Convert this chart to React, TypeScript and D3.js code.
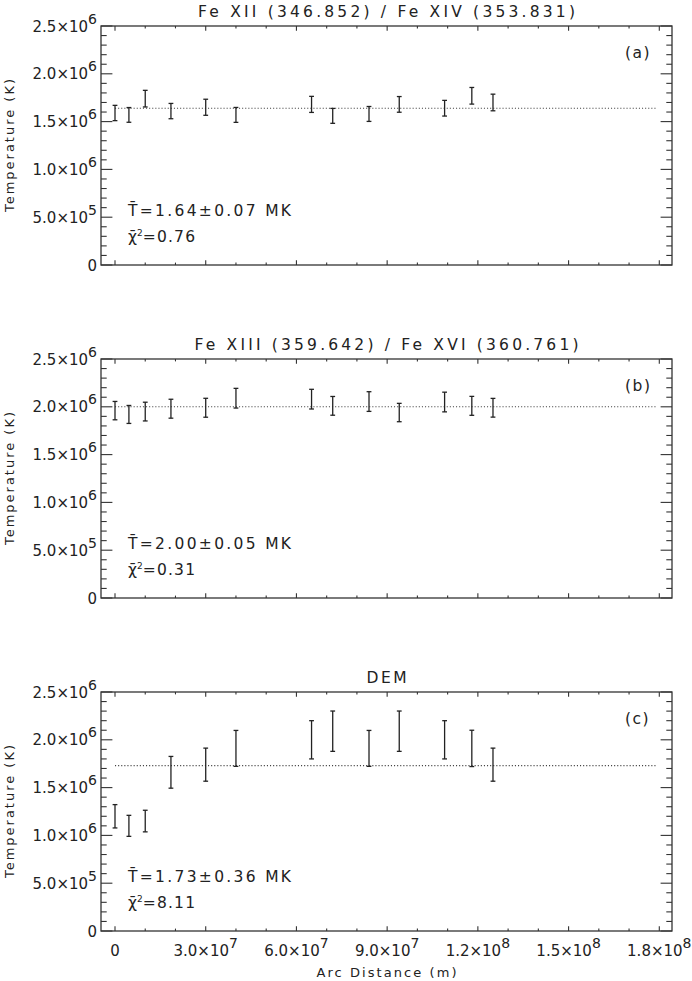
import React from "react";
import * as d3 from "d3";

const arcDistance = [0, 4.6e6, 1.0e7, 1.85e7, 3.0e7, 4.0e7, 6.5e7, 7.2e7, 8.4e7, 9.4e7, 1.09e8, 1.18e8, 1.25e8];

const tempA = [1.59e6, 1.57e6, 1.74e6, 1.61e6, 1.65e6, 1.57e6, 1.68e6, 1.56e6, 1.58e6, 1.68e6, 1.64e6, 1.77e6, 1.70e6];
const errA = [0.08e6, 0.077e6, 0.087e6, 0.08e6, 0.084e6, 0.078e6, 0.084e6, 0.078e6, 0.078e6, 0.082e6, 0.082e6, 0.087e6, 0.087e6];

const tempB = [1.96e6, 1.92e6, 1.95e6, 1.98e6, 1.99e6, 2.09e6, 2.08e6, 2.01e6, 2.055e6, 1.94e6, 2.05e6, 2.01e6, 1.99e6];
const errB = [0.096e6, 0.094e6, 0.098e6, 0.099e6, 0.099e6, 0.103e6, 0.103e6, 0.098e6, 0.103e6, 0.096e6, 0.103e6, 0.099e6, 0.098e6];

const tempC = [1.20e6, 1.10e6, 1.15e6, 1.66e6, 1.74e6, 1.91e6, 2.00e6, 2.09e6, 1.91e6, 2.09e6, 2.00e6, 1.91e6, 1.74e6];
const errC = [0.122e6, 0.110e6, 0.113e6, 0.166e6, 0.173e6, 0.188e6, 0.200e6, 0.211e6, 0.188e6, 0.211e6, 0.200e6, 0.190e6, 0.173e6];

const panelTitles = ["Fe XII (346.852) / Fe XIV (353.831)", "Fe XIII (359.642) / Fe XVI (360.761)", "DEM"];
const panelTags = ["(a)", "(b)", "(c)"];
const meanT = [1.64e6, 2.0e6, 1.73e6];
const meanLabels = ["1.64\u00B10.07  MK", "2.00\u00B10.05  MK", "1.73\u00B10.36  MK"];
const chiLabels = ["0.76", "0.31", "8.11"];

const yTickMantissa = ["0", "5.0\u00D710", "1.0\u00D710", "1.5\u00D710", "2.0\u00D710", "2.5\u00D710"];
const yTickExp = ["", "5", "6", "6", "6", "6"];
const yTickValues = [0, 5e5, 1e6, 1.5e6, 2e6, 2.5e6];

const xTickValues = [0, 3e7, 6e7, 9e7, 1.2e8, 1.5e8, 1.8e8];
const xTickMantissa = ["0", "3.0\u00D710", "6.0\u00D710", "9.0\u00D710", "1.2\u00D710", "1.5\u00D710", "1.8\u00D710"];
const xTickExp = ["", "7", "7", "7", "8", "8", "8"];

const W = 692;
const H = 981;
const left = 101;
const right = 672;
const panelTops = [26, 359, 692];
const panelH = 239;
const FONT = "'DejaVu Sans', Verdana, sans-serif";
const INK = "#222";

const titleWidths = [377, 384, 40];

function Panel({ idx, temps, errs }: { idx: number; temps: number[]; errs: number[] }) {
  const top = panelTops[idx];
  const bottom = top + panelH;
  const x = d3.scaleLinear().domain([-4.63e6, 1.842e8]).range([left, right]);
  const y = d3.scaleLinear().domain([0, 2.5e6]).range([bottom, top]);
  const yMinor = d3.range(0, 2.5e6 + 1, 1e5).filter((v) => Math.round(v / 1e5) % 5 !== 0);
  const xMinor = d3.range(0, 1.84e8, 1e7).filter((v) => Math.round(v / 1e7) % 3 !== 0);
  const yMajLen = 11.4;
  const xMajLen = 4.8;
  const lineEnd = 1.79e8;
  return (
    <g>
      <text
        x={(left + right) / 2}
        y={top - 9.5}
        textAnchor="middle"
        fontSize={15.5}
        fontFamily={FONT}
        fill={INK}
        textLength={titleWidths[idx]}
        lengthAdjust="spacing"
      >
        {panelTitles[idx]}
      </text>
      <line
        x1={x(0)}
        x2={x(lineEnd)}
        y1={y(meanT[idx])}
        y2={y(meanT[idx])}
        stroke="#444"
        strokeWidth={1.1}
        strokeDasharray="1.1 2"
      />
      {arcDistance.map((d, i) => {
        const cx = x(d);
        const y1 = y(temps[i] + errs[i]);
        const y2 = y(temps[i] - errs[i]);
        return (
          <g key={i} stroke={INK} strokeWidth={1.3}>
            <line x1={cx} x2={cx} y1={y1} y2={y2} />
            <line x1={cx - 2.4} x2={cx + 2.4} y1={y1} y2={y1} />
            <line x1={cx - 2.4} x2={cx + 2.4} y1={y2} y2={y2} />
          </g>
        );
      })}
      <rect x={left} y={top} width={right - left} height={panelH} fill="none" stroke="#333" strokeWidth={1.3} />
      {yTickValues.map((v, i) => (
        <g key={"ym" + i} stroke="#333" strokeWidth={1.1}>
          <line x1={left} x2={left + yMajLen} y1={y(v)} y2={y(v)} />
          <line x1={right} x2={right - yMajLen} y1={y(v)} y2={y(v)} />
        </g>
      ))}
      {yMinor.map((v, i) => (
        <g key={"yn" + i} stroke="#333" strokeWidth={1.1}>
          <line x1={left} x2={left + yMajLen / 2} y1={y(v)} y2={y(v)} />
          <line x1={right} x2={right - yMajLen / 2} y1={y(v)} y2={y(v)} />
        </g>
      ))}
      {xTickValues.map((v, i) => (
        <g key={"xm" + i} stroke="#333" strokeWidth={1.1}>
          <line x1={x(v)} x2={x(v)} y1={bottom} y2={bottom - xMajLen} />
          <line x1={x(v)} x2={x(v)} y1={top} y2={top + xMajLen} />
        </g>
      ))}
      {xMinor.map((v, i) => (
        <g key={"xn" + i} stroke="#333" strokeWidth={1.1}>
          <line x1={x(v)} x2={x(v)} y1={bottom} y2={bottom - xMajLen / 2} />
          <line x1={x(v)} x2={x(v)} y1={top} y2={top + xMajLen / 2} />
        </g>
      ))}
      {yTickValues.map((v, i) => (
        <text
          key={"yl" + i}
          x={97}
          y={y(v) + 5.5}
          textAnchor="end"
          fontSize={15}
          fontFamily={FONT}
          fill={INK}
        >
          {yTickMantissa[i]}
          {yTickExp[i] && (
            <tspan dy={-8} fontSize={14}>
              {yTickExp[i]}
            </tspan>
          )}
        </text>
      ))}
      <text
        transform={`translate(14,${(top + bottom) / 2}) rotate(-90)`}
        textAnchor="middle"
        fontSize={13}
        fontFamily={FONT}
        fill={INK}
        textLength={133}
        lengthAdjust="spacing"
      >
        Temperature (K)
      </text>
      <text x={625} y={top + 32} fontSize={15.5} fontFamily={FONT} fill={INK} letterSpacing={1.5}>
        {panelTags[idx]}
      </text>
      <text
        x={128}
        y={bottom - 49}
        fontSize={15.5}
        fontFamily={FONT}
        fill={INK}
        textLength={163}
        lengthAdjust="spacing"
      >
        {"T\u0304=" + meanLabels[idx]}
      </text>
      <text x={128} y={bottom - 23.3} fontSize={15.5} fontFamily={FONT} fill={INK}>
        <tspan>{"\u03C7\u0304"}</tspan>
        <tspan dy={-6} fontSize={9}>
          2
        </tspan>
        <tspan dy={6} letterSpacing={1.2}>
          {"=" + chiLabels[idx]}
        </tspan>
      </text>
      {idx === 2 &&
        xTickValues.map((v, i) => (
          <text
            key={"xl" + i}
            x={x(v)}
            y={956}
            textAnchor="middle"
            fontSize={15}
            fontFamily={FONT}
            fill={INK}
          >
            {xTickMantissa[i]}
            {xTickExp[i] && (
              <tspan dy={-8} fontSize={14}>
                {xTickExp[i]}
              </tspan>
            )}
          </text>
        ))}
      {idx === 2 && (
        <text
          x={(left + right) / 2}
          y={977}
          textAnchor="middle"
          fontSize={13}
          fontFamily={FONT}
          fill={INK}
          textLength={140}
          lengthAdjust="spacing"
        >
          Arc Distance (m)
        </text>
      )}
    </g>
  );
}

export default function App() {
  return (
    <svg
      width={W}
      height={H}
      viewBox={`0 0 ${W} ${H}`}
      style={{ position: "absolute", left: 0, top: 0, background: "#fff" }}
    >
      <rect x={0} y={0} width={W} height={H} fill="#fff" />
      <Panel idx={0} temps={tempA} errs={errA} />
      <Panel idx={1} temps={tempB} errs={errB} />
      <Panel idx={2} temps={tempC} errs={errC} />
    </svg>
  );
}
